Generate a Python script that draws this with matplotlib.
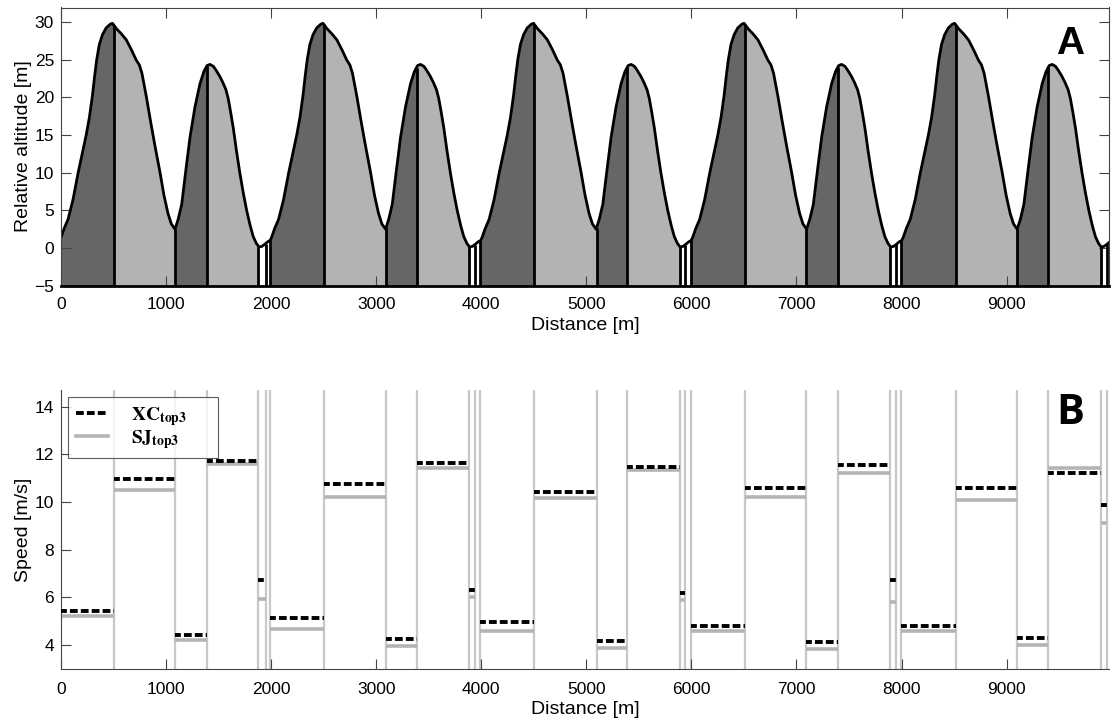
import numpy as np
import matplotlib
matplotlib.use("Agg")
import matplotlib.pyplot as plt
from matplotlib.lines import Line2D

plt.rcParams['font.family'] = ['Liberation Sans', 'DejaVu Sans']
plt.rcParams['mathtext.fontset'] = 'stix'

# one lap of the altitude profile (distance within lap [m], altitude [m])
lap_dist = [0, 30, 67, 114, 162, 209, 240, 270, 300, 320, 340, 365, 395, 430, 470, 490,
            527, 575, 622, 670, 717, 745, 770, 812, 850, 891, 940, 980, 1018, 1050, 1085,
            1115, 1149, 1190, 1228, 1275, 1323, 1360, 1390, 1418, 1450, 1475, 1510,
            1539, 1570, 1592, 1615, 1640, 1670, 1703, 1735, 1767, 1800, 1830, 1860,
            1884, 1910, 1940, 1965, 1990]
lap_alt = [1.4, 2.6, 3.8, 6.4, 9.9, 13.0, 15.0, 17.3, 20.3, 22.8, 25.0, 27.0, 28.3, 29.2, 29.7, 29.8,
           29.1, 28.4, 27.6, 26.3, 24.9, 24.3, 23.2, 20.1, 17.0, 13.8, 10.2, 7.0, 4.6, 3.2, 2.5,
           3.8, 5.8, 10.5, 14.7, 18.7, 21.8, 23.4, 24.2, 24.35, 24.1, 23.6, 22.8,
           22.0, 21.0, 19.8, 18.0, 15.9, 12.9, 9.9, 7.3, 5.0, 3.0, 1.5, 0.6,
           0.15, 0.2, 0.5, 0.8, 1.0]
lap_starts = [0, 2004, 4008, 6012, 8016]
course_end = 9975

# section boundaries [m]
bounds = [0, 504, 1085, 1386, 1877, 1948,
          1991, 2502, 3095, 3384, 3885, 3936,
          3986, 4503, 5097, 5392, 5890, 5944,
          6001, 6515, 7095, 7396, 7894, 7951,
          7999, 8516, 9103, 9398, 9902, 9959, 9975]
lap_kinds = ['up', 'down', 'up', 'down', 'flat', 'flat']
kind_color = {'up': '#666666', 'down': '#b3b3b3', 'flat': 'white'}

nan = np.nan
xc_speed = [5.42, 10.96, 4.41, 11.74, 6.75, nan,
            5.15, 10.75, 4.27, 11.62, 6.33, nan,
            4.96, 10.43, 4.17, 11.49, 6.19, nan,
            4.82, 10.59, 4.15, 11.56, 6.75, nan,
            4.82, 10.59, 4.31, 11.21, 9.86, nan]
sj_speed = [5.21, 10.51, 4.20, 11.60, 5.94, nan,
            4.69, 10.21, 3.96, 11.45, 6.02, nan,
            4.61, 10.17, 3.89, 11.35, 5.91, nan,
            4.59, 10.21, 3.85, 11.24, 5.82, nan,
            4.61, 10.10, 3.99, 11.41, 9.12, nan]

# full course profile
px, py = [], []
for s in lap_starts:
    for d, a in zip(lap_dist, lap_alt):
        if s + d <= course_end:
            px.append(s + d)
            py.append(a)
px.append(course_end)
py.append(np.interp(course_end - lap_starts[-1], lap_dist, lap_alt))
px = np.array(px, float)
py = np.array(py, float)

fig = plt.figure(figsize=(11.17, 7.19), dpi=100)
ax1 = fig.add_axes([61 / 1117, 1 - 285.7 / 719, 1048 / 1117, 278.2 / 719])
ax2 = fig.add_axes([61 / 1117, 1 - 669 / 719, 1048 / 1117, 279 / 719])

# --- A: altitude profile
for i in range(len(bounds) - 1):
    b0, b1 = bounds[i], bounds[i + 1]
    inner = px[(px > b0) & (px < b1)]
    xs = np.concatenate([[b0], inner, [b1]])
    ys = np.interp(xs, px, py)
    ax1.fill_between(xs, -5, ys, color=kind_color[lap_kinds[i % 6]], lw=0)
ax1.plot(px, py, color='black', lw=2.0, solid_joinstyle='round')
ax1.vlines(bounds[1:-1], -5, np.interp(bounds[1:-1], px, py), color='black', lw=2.0)

ax1.set_xlim(0, course_end)
ax1.set_ylim(-5, 31.9)
ax1.set_xticks(range(0, 10000, 1000))
ax1.set_yticks(range(-5, 31, 5))
ax1.tick_params(direction='in', length=7, top=True, right=True, labelsize=12.5,
                color='#444444')
ax1.tick_params(axis='x', pad=8)
ax1.tick_params(axis='y', pad=5)
for sp in ['top', 'left', 'right']:
    ax1.spines[sp].set_color('#444444')
    ax1.spines[sp].set_linewidth(0.8)
ax1.spines['bottom'].set_linewidth(2)
ax1.spines['bottom'].set_color('black')
ax1.set_xlabel('Distance [m]', fontsize=14, labelpad=4)
ax1.set_ylabel('Relative altitude [m]', fontsize=14)
ax1.yaxis.set_label_coords(-0.028, 0.5)
ax1.text(0.963, 0.87, 'A', transform=ax1.transAxes, fontsize=28, fontweight='bold',
         ha='center', va='center', family='Liberation Sans')

# --- B: section speeds
ax2.vlines(bounds[1:-1], 3, 14.7, color='#c8c8c8', lw=1.6, zorder=1)
for i in range(len(bounds) - 1):
    b0, b1 = bounds[i], bounds[i + 1]
    ax2.plot([b0, b1], [sj_speed[i], sj_speed[i]], color='#b4b4b4', lw=2.6,
             solid_capstyle='butt', zorder=2)
    ax2.plot([b0, b1], [xc_speed[i], xc_speed[i]], color='black', lw=2.8,
             linestyle=(0.5, (2.0, 0.8)), zorder=3)

ax2.set_xlim(0, course_end)
ax2.set_ylim(3, 14.7)
ax2.set_xticks(range(0, 10000, 1000))
ax2.set_yticks(range(4, 15, 2))
ax2.tick_params(direction='in', length=7, labelsize=12.5, color='#444444')
ax2.tick_params(axis='x', pad=9)
ax2.tick_params(axis='y', pad=5)
for sp in ['top', 'right']:
    ax2.spines[sp].set_visible(False)
for sp in ['left', 'bottom']:
    ax2.spines[sp].set_color('#444444')
    ax2.spines[sp].set_linewidth(0.8)
ax2.set_xlabel('Distance [m]', fontsize=14, labelpad=3)
ax2.set_ylabel('Speed [m/s]', fontsize=14)
ax2.yaxis.set_label_coords(-0.028, 0.5)
ax2.text(0.963, 0.915, 'B', transform=ax2.transAxes, fontsize=30, fontweight='bold',
         ha='center', va='center', family='Open Sans')

handles = [Line2D([], [], color='black', lw=2.8, linestyle=(0, (2.0, 0.8))),
           Line2D([], [], color='#b4b4b4', lw=2.6)]
leg = ax2.legend(handles, [r'$\mathbf{XC_{top3}}$', r'$\mathbf{SJ_{top3}}$'],
                 loc='upper left', bbox_to_anchor=(0.0067, 0.5, 0.143, 0.475),
                 mode='expand', borderaxespad=0,
                 fontsize=14, frameon=True, fancybox=False, handlelength=1.65,
                 handletextpad=1.2, borderpad=0.4, labelspacing=0.0)
leg.get_frame().set_edgecolor('#333333')
leg.get_frame().set_linewidth(0.8)

fig.savefig('out.png', dpi=100)
